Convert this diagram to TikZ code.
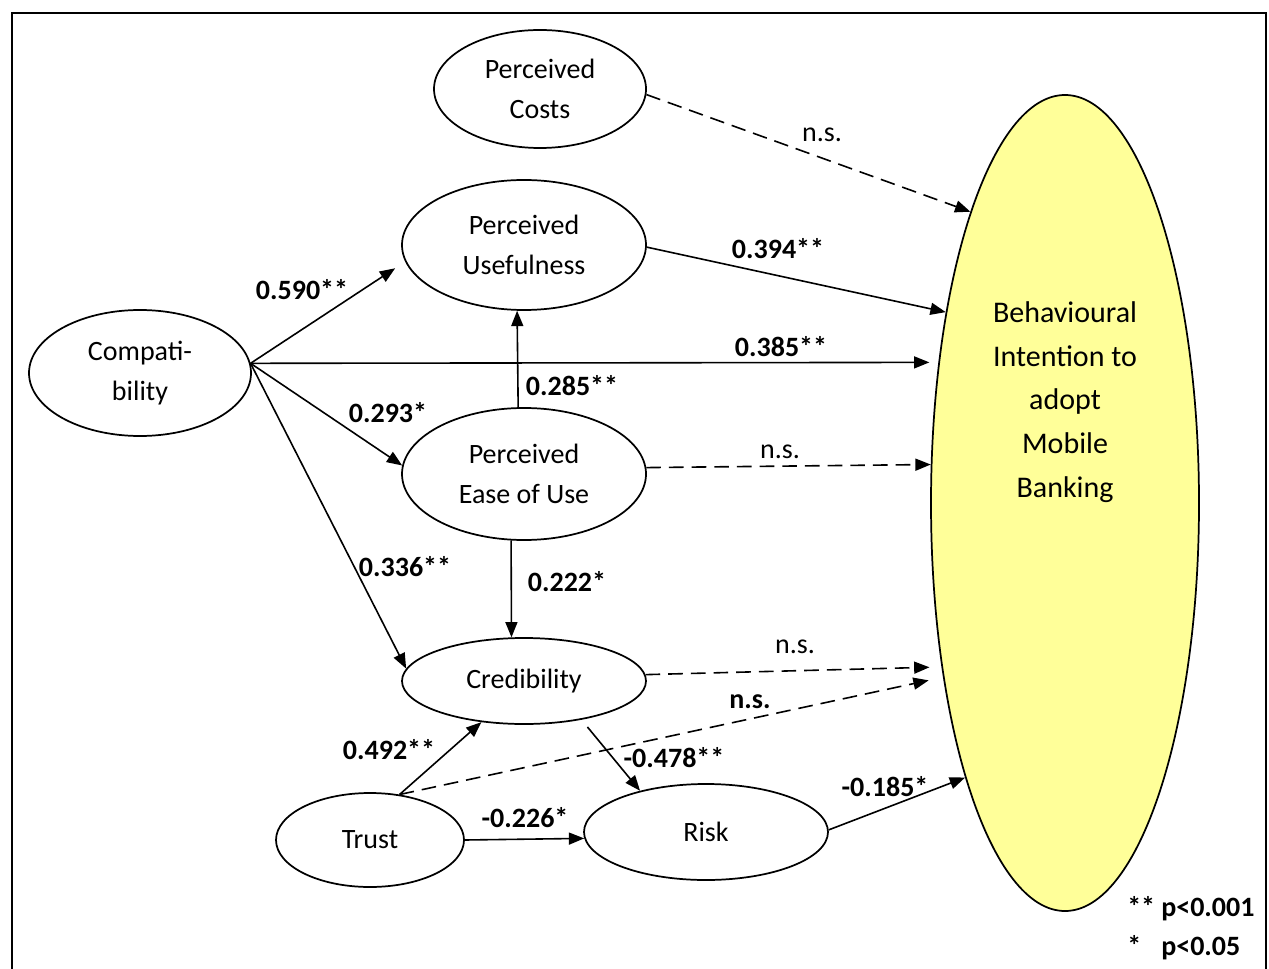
\documentclass[tikz,border=0pt]{standalone}
\usepackage{fontspec}
\setmainfont{Carlito}
\usetikzlibrary{arrows.meta,shapes.geometric}
\definecolor{biyellow}{HTML}{FFFF99}
\begin{document}
\begin{tikzpicture}[x=0.75pt,y=-0.75pt,
  every node/.style={font=\fontsize{21}{30}\selectfont},
  oval/.style={ellipse,draw,line width=1.3pt,inner sep=0pt,align=center},
  arr/.style={line width=1.2pt,-{Triangle[length=11.5pt,width=9pt]}},
  dsh/.style={arr,dash pattern=on 11pt off 6pt},
  lbl/.style={font=\fontsize{21}{30}\selectfont\bfseries,inner sep=1pt},
  nlbl/.style={font=\fontsize{21}{30}\selectfont,inner sep=1pt}]
\useasboundingbox (0,0) rectangle (1269,969);
\draw[line width=1.5pt] (12,975) -- (12,13) -- (1266,13) -- (1266,975);

% nodes
\node[oval,fill=biyellow,minimum width=201pt,minimum height=612pt] (bi) at (1065,503) {};
\node[align=center,font=\fontsize{22.5}{32.8}\selectfont] (bitext) at (1065,402)
  {Behavioural\\Intention to\\adopt\\Mobile\\Banking};
\node[oval,minimum width=159pt,minimum height=88.5pt] (pc) at (540,89) {Perceived\\Costs};
\node[oval,minimum width=183pt,minimum height=97.5pt] (pu) at (524,245) {Perceived\\Usefulness};
\node[oval,minimum width=166.5pt,minimum height=94.5pt] (comp) at (140,373) {Compati-\\bility};
\node[oval,minimum width=183pt,minimum height=99pt] (peou) at (524,474) {Perceived\\Ease of Use};
\node[oval,minimum width=183pt,minimum height=64.5pt] (cred) at (524,681) {Credibility};
\node[oval,minimum width=141pt,minimum height=70.5pt] (trust) at (370,840) {Trust};
\node[oval,minimum width=183pt,minimum height=72pt] (risk) at (706,832) {Risk};

% connectors
\draw[dsh] (pc.-3) -- (bi.108.9);
\draw[arr] (pu.-1) -- (bi.122.1);
\draw[arr,shorten >=9pt] (comp.5) -- (pu.188);
\draw[arr,shorten >=6.75pt] (comp.5) -- (bi.132);
\draw[arr] (peou.95.2) -- (pu.264.9);
\draw[arr] (comp.5) -- (peou.176.2);
\draw[dsh] (peou.3.2) -- (bi.164.9);
\draw[arr] (comp.5) -- (cred.174.8);
\draw[arr] (peou.259.85) -- (cred.106.3);
\draw[dsh,shorten >=9pt] (cred.3.7) -- (bi.233.1);
\draw[dsh,shorten >=11pt] (trust.57.4) -- (bi.235.4);
\draw[arr] (trust.57.4) -- (cred.224.4);
\draw[arr,shorten <=7pt] (cred.-34.7) -- (risk.148.9);
\draw[arr] (trust.east) -- (risk.183.75);
\draw[arr] (risk.1) -- (bi.250.6);

% labels
\node[nlbl] (l1) at (822,135) {n.s.};
\node[lbl] (l2) at (778,249) {0.394**};
\node[lbl] (l3) at (302,290) {0.590**};
\node[lbl] (l4) at (781,347) {0.385**};
\node[lbl] (l5) at (572,386) {0.285**};
\node[lbl] (l6) at (388,413) {0.293*};
\node[nlbl] (l7) at (780,452) {n.s.};
\node[lbl] (l8) at (405,567) {0.336**};
\node[lbl] (l9) at (567,582) {0.222*};
\node[nlbl] (l10) at (795,647) {n.s.};
\node[lbl] (l11) at (750,702) {n.s.};
\node[lbl] (l12) at (389,750) {0.492**};
\node[lbl] (l13) at (674,758) {-0.478**};
\node[lbl] (l14) at (525,818) {-0.226*};
\node[lbl] (l15) at (885,787) {-0.185*};

% legend
\node[lbl,anchor=base west,inner sep=0pt] (leg1) at (1127,916) {\makebox[25.5pt][l]{**}p<0.001};
\node[lbl,anchor=base west,inner sep=0pt] (leg2) at (1127,955) {\makebox[25.5pt][l]{*}p<0.05};
\end{tikzpicture}
\end{document}
